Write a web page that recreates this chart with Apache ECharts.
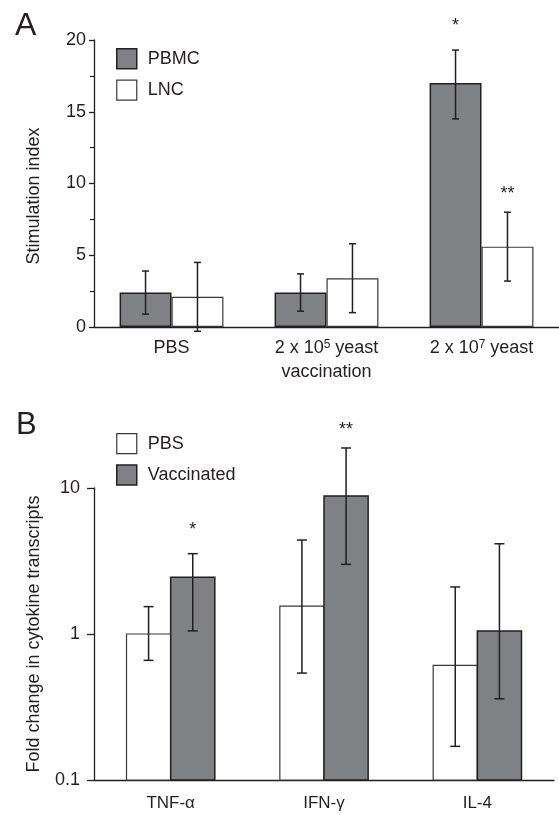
<!DOCTYPE html>
<html><head><meta charset="utf-8">
<script src="https://cdn.jsdelivr.net/npm/echarts@6/dist/echarts.min.js"></script>
<style>html,body{margin:0;padding:0;background:#fff}#c{width:559px;height:815px}</style>
</head><body><div id="c"></div>
<script>
// ---------- Panel A data ----------
const categoriesA = ['PBS', '2 x 10^5 yeast\nvaccination', '2 x 10^7 yeast'];
const pbmcMean = [2.4, 2.4, 17.0];
const pbmcLow  = [0.9, 1.1, 14.5];
const pbmcHigh = [3.9, 3.7, 19.3];
const pbmcSig  = ['', '', '*'];
const lncMean  = [2.1, 3.4, 5.6];
const lncLow   = [-0.3, 1.0, 3.2];
const lncHigh  = [4.5, 5.8, 8.0];
const lncSig   = ['', '', '**'];
const ticksA   = [0, 5, 10, 15, 20];

// ---------- Panel B data ----------
const categoriesB = ['TNF-\u03b1', 'IFN-\u03b3', 'IL-4'];
const pbsMean  = [1.0, 1.55, 0.61];
const pbsLow   = [0.66, 0.54, 0.17];
const pbsHigh  = [1.54, 4.4, 2.1];
const pbsSig   = ['', '', ''];
const vacMean  = [2.45, 8.8, 1.05];
const vacLow   = [1.05, 3.0, 0.36];
const vacHigh  = [3.55, 18.8, 4.15];
const vacSig   = ['*', '**', ''];
const ticksB   = [0.1, 1, 10];

// ---------- styles ----------
const DARK = '#231f20', GRAY = '#808184', WBORDER = '#3a3a3a';
const FONT = '"Liberation Sans", Arial, sans-serif';
const BAR_A = 0.335, BAR_B = 0.288;

function sigText(x, yHi, s) {
  const off = s.length === 1 ? 28 : 22;
  return { type: 'text', x: x, y: yHi - off + 4,
    style: { text: s, fill: DARK, fontSize: 18, fontFamily: FONT, align: 'center', verticalAlign: 'middle' } };
}
function errShapes(cx, yHi, yLo, cap) {
  const ls = { stroke: DARK, lineWidth: 1.5 };
  return [
    { type: 'line', shape: { x1: cx, y1: yHi, x2: cx, y2: yLo }, style: ls },
    { type: 'line', shape: { x1: cx - cap / 2, y1: yHi, x2: cx + cap / 2, y2: yHi }, style: ls },
    { type: 'line', shape: { x1: cx - cap / 2, y1: yLo, x2: cx + cap / 2, y2: yLo }, style: ls }
  ];
}
// error bars for panel A (over bar series)
function errRenderA(side, sigArr) {
  return function (params, api) {
    const i = api.value(0), lo = api.value(1), hi = api.value(2);
    const band = api.coord([1, hi])[0] - api.coord([0, hi])[0];
    const cx = api.coord([i, hi])[0] + side * band * BAR_A / 2;
    const yHi = api.coord([i, hi])[1], yLo = api.coord([i, lo])[1];
    const ch = errShapes(cx, yHi, yLo, 7);
    if (sigArr[i]) ch.push(sigText(cx, yHi, sigArr[i]));
    return { type: 'group', children: ch };
  };
}
// bars + error bars for panel B (log axis, bars start at axis minimum)
function renderB(side, fill, stroke, sw, sigArr) {
  return function (params, api) {
    const i = api.value(0), m = api.value(1), lo = api.value(2), hi = api.value(3);
    const band = api.coord([1, m])[0] - api.coord([0, m])[0];
    const bw = band * BAR_B;
    const cx = api.coord([i, m])[0] + side * bw / 2;
    const yTop = api.coord([i, m])[1];
    const yBase = api.coord([i, ticksB[0]])[1];
    const ch = [{ type: 'rect', shape: { x: cx - bw / 2, y: yTop, width: bw, height: yBase - yTop },
      style: { fill: fill, stroke: stroke, lineWidth: sw } }];
    const yHi = api.coord([i, hi])[1], yLo = api.coord([i, lo])[1];
    errShapes(cx, yHi, yLo, 10).forEach(s => ch.push(s));
    if (sigArr[i]) ch.push(sigText(cx, yHi, sigArr[i]));
    return { type: 'group', children: ch };
  };
}

const axisLineStyle = { color: DARK, width: 1.3 };
const chart = echarts.init(document.getElementById('c'), null, { renderer: 'canvas' });
chart.setOption({
  animation: false,
  backgroundColor: '#fff',
  textStyle: { fontFamily: FONT, color: DARK },
  grid: [
    { left: 94, top: 40, width: 465, height: 287 },
    { left: 94, top: 488, width: 460, height: 292 }
  ],
  legend: [
    { left: 116, top: 48, orient: 'vertical', padding: 0, itemGap: 10, itemWidth: 20, itemHeight: 20,
      icon: 'rect', selectedMode: false,
      textStyle: { fontSize: 18, color: DARK, fontFamily: FONT, padding: [0, 0, 0, 6] },
      data: [
        { name: 'PBMC', itemStyle: { color: GRAY, borderColor: DARK, borderWidth: 1.5 } },
        { name: 'LNC', itemStyle: { color: '#fff', borderColor: WBORDER, borderWidth: 1.2 } }
      ] },
    { left: 116, top: 433, orient: 'vertical', padding: 0, itemGap: 10, itemWidth: 20, itemHeight: 20,
      icon: 'rect', selectedMode: false,
      textStyle: { fontSize: 18, color: DARK, fontFamily: FONT, padding: [0, 0, 0, 6] },
      data: [
        { name: 'PBS', itemStyle: { color: '#fff', borderColor: WBORDER, borderWidth: 1.2 } },
        { name: 'Vaccinated', itemStyle: { color: GRAY, borderColor: DARK, borderWidth: 1.5 } }
      ] }
  ],
  xAxis: [
    { type: 'category', gridIndex: 0, data: categoriesA,
      axisLine: { lineStyle: axisLineStyle }, axisTick: { length: 5, lineStyle: axisLineStyle },
      axisLabel: { margin: 9, fontSize: 18, color: DARK, fontFamily: FONT, lineHeight: 24, interval: 0,
        formatter: v => v.replace(/\^(\d)/g, '{s|$1}'),
        rich: { s: { fontSize: 12, fontFamily: FONT, color: DARK, padding: [0, 0, 6, 0] } } } },
    { type: 'category', gridIndex: 1, data: categoriesB,
      axisLine: { lineStyle: axisLineStyle }, axisTick: { length: 6, lineStyle: axisLineStyle },
      axisLabel: { margin: 15, fontSize: 17, color: DARK, fontFamily: FONT, interval: 0 } }
  ],
  yAxis: [
    { type: 'value', gridIndex: 0, min: ticksA[0], max: ticksA[ticksA.length - 1], interval: ticksA[1] - ticksA[0],
      axisLine: { show: true, lineStyle: axisLineStyle }, axisTick: { show: true, length: 5, lineStyle: axisLineStyle },
      minorTick: { show: true, splitNumber: 2, length: 4, lineStyle: { color: DARK, width: 1.2 } },
      splitLine: { show: false },
      axisLabel: { margin: 8, fontSize: 18, color: DARK, fontFamily: FONT } },
    { type: 'log', gridIndex: 1, logBase: 10, min: ticksB[0], max: ticksB[ticksB.length - 1],
      axisLine: { show: true, lineStyle: axisLineStyle }, axisTick: { show: true, length: 7, lineStyle: axisLineStyle },
      splitLine: { show: false },
      axisLabel: { margin: 14, fontSize: 18, color: DARK, fontFamily: FONT, formatter: v => String(+v.toPrecision(3)) } }
  ],
  graphic: [
    { type: 'text', left: 15, top: 10, style: { text: 'A', fontSize: 32, fontFamily: FONT, fill: DARK } },
    { type: 'text', left: 16, top: 410, style: { text: 'B', fontSize: 31, fontFamily: FONT, fill: DARK } },
    { type: 'text', x: 34, y: 196, rotation: Math.PI / 2,
      style: { text: 'Stimulation index', fontSize: 18, fontFamily: FONT, fill: DARK, align: 'center', verticalAlign: 'middle' } },
    { type: 'text', x: 34, y: 634, rotation: Math.PI / 2,
      style: { text: 'Fold change in cytokine transcripts', fontSize: 18, fontFamily: FONT, fill: DARK, align: 'center', verticalAlign: 'middle' } }
  ],
  series: [
    { name: 'PBMC', type: 'bar', xAxisIndex: 0, yAxisIndex: 0, data: pbmcMean, barWidth: (BAR_A * 100) + '%', barGap: '0%',
      itemStyle: { color: GRAY, borderColor: DARK, borderWidth: 1.5 } },
    { name: 'LNC', type: 'bar', xAxisIndex: 0, yAxisIndex: 0, data: lncMean, barWidth: (BAR_A * 100) + '%', barGap: '0%',
      itemStyle: { color: '#fff', borderColor: WBORDER, borderWidth: 1.2 } },
    { type: 'custom', xAxisIndex: 0, yAxisIndex: 0, clip: false, z: 5,
      data: pbmcMean.map((_, i) => [i, pbmcLow[i], pbmcHigh[i]]), renderItem: errRenderA(-1, pbmcSig) },
    { type: 'custom', xAxisIndex: 0, yAxisIndex: 0, clip: false, z: 5,
      data: lncMean.map((_, i) => [i, lncLow[i], lncHigh[i]]), renderItem: errRenderA(1, lncSig) },
    { name: 'PBS', type: 'custom', xAxisIndex: 1, yAxisIndex: 1, clip: false, z: 5,
      encode: { x: 0, y: [1, 2, 3] },
      data: pbsMean.map((m, i) => [i, m, pbsLow[i], pbsHigh[i]]),
      renderItem: renderB(-1, '#fff', WBORDER, 1.2, pbsSig) },
    { name: 'Vaccinated', type: 'custom', xAxisIndex: 1, yAxisIndex: 1, clip: false, z: 5,
      encode: { x: 0, y: [1, 2, 3] },
      data: vacMean.map((m, i) => [i, m, vacLow[i], vacHigh[i]]),
      renderItem: renderB(1, GRAY, DARK, 1.5, vacSig) }
  ]
});
</script></body></html>
